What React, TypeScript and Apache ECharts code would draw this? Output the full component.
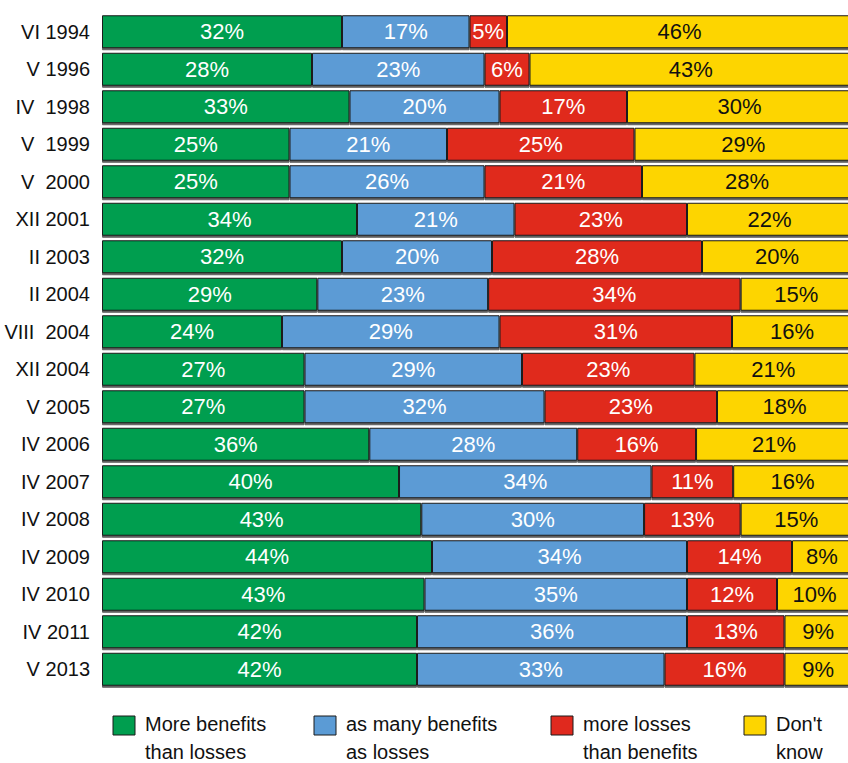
import React, { useEffect, useRef } from "react";
import * as echarts from "echarts";

const categories = [
  "VI 1994", "V 1996", "IV  1998", "V  1999", "V  2000", "XII 2001", "II 2003", "II 2004",
  "VIII  2004", "XII 2004", "V 2005", "IV 2006", "IV 2007", "IV 2008", "IV 2009", "IV 2010",
  "IV 2011", "V 2013",
];
const moreBenefits = [32, 28, 33, 25, 25, 34, 32, 29, 24, 27, 27, 36, 40, 43, 44, 43, 42, 42];
const asMany = [17, 23, 20, 21, 26, 21, 20, 23, 29, 29, 32, 28, 34, 30, 34, 35, 36, 33];
const moreLosses = [5, 6, 17, 25, 21, 23, 28, 34, 31, 23, 23, 16, 11, 13, 14, 12, 13, 16];
const dontKnow = [46, 43, 30, 29, 28, 22, 20, 15, 16, 21, 18, 21, 16, 15, 8, 10, 9, 9];

const seriesNames = ["More benefits\nthan losses", "as many benefits\nas losses", "more losses\nthan benefits", "Don't\nknow"];
const colors = ["#009E4F", "#5B9BD5", "#E0291E", "#FDD500"];
const labelColors = ["#ffffff", "#ffffff", "#ffffff", "#111111"];

export default function App() {
  const ref = useRef<HTMLDivElement>(null);
  useEffect(() => {
    if (!ref.current) return;
    document.body.style.overflow = "hidden";
    const chart = echarts.init(ref.current, null, { renderer: "svg" });
    const all = [moreBenefits, asMany, moreLosses, dontKnow];
    const sums = categories.map((_, i) => all.reduce((s, arr) => s + arr[i], 0));
    const font = "'Liberation Sans', Arial, sans-serif";
    const series = all.map((arr, k) => ({
      type: "bar",
      name: seriesNames[k],
      stack: "total",
      barCategoryGap: "12%",
      data: arr.map((v, i) => ({ value: (v / sums[i]) * 100, raw: v })),
      itemStyle: {
        color: colors[k],
        borderColor: "#1a1a1a",
        borderWidth: 1,
        shadowColor: "rgba(80,80,80,0.9)",
        shadowOffsetY: 2,
        shadowOffsetX: 0,
        shadowBlur: 0,
      },
      label: {
        show: true,
        position: "inside",
        color: labelColors[k],
        fontSize: 22,
        fontFamily: font,
        formatter: (p: any) => p.data.raw + "%",
      },
    }));

    const legendX = [113, 314, 551, 744];
    const graphic: any[] = [];
    seriesNames.forEach((n, k) => {
      graphic.push({
        type: "rect",
        shape: { x: legendX[k], y: 716, width: 22, height: 19 },
        style: { fill: colors[k], stroke: "#1a1a1a", lineWidth: 1 },
      });
      const lines = n.split("\n");
      lines.forEach((line, j) => {
        graphic.push({
          type: "text",
          x: legendX[k] + 32,
          y: j === 0 ? 724 : 752,
          style: {
            text: line,
            fill: "#111",
            font: "20px " + font,
            verticalAlign: "middle",
            align: "left",
          },
        });
      });
    });

    chart.setOption({
      animation: false,
      grid: { left: 102, right: 18, top: 13, bottom: 75, containLabel: false },
      xAxis: { type: "value", min: 0, max: 100, show: false },
      yAxis: {
        type: "category",
        data: categories,
        inverse: true,
        axisLine: { show: false },
        axisTick: { show: false },
        axisLabel: { margin: 12, fontSize: 20, color: "#111", fontFamily: font },
      },
      graphic,
      series,
    });
    return () => chart.dispose();
  }, []);
  return (
    <div
      ref={ref}
      style={{ position: "fixed", left: 0, top: 0, width: 870, height: 763, background: "#fff" }}
    />
  );
}
